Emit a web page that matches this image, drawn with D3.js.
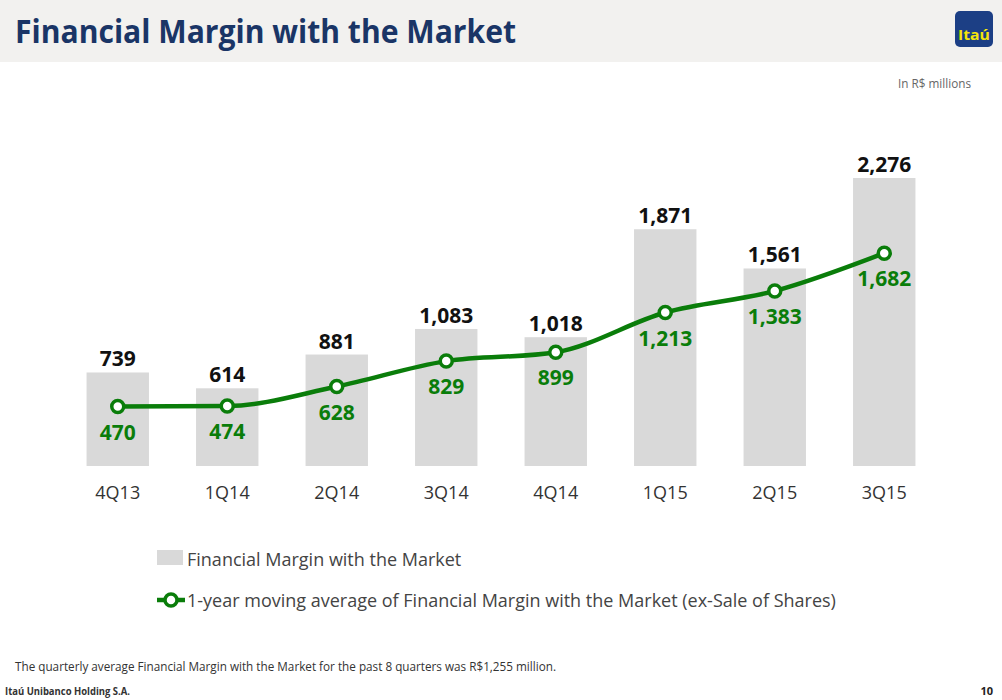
<!DOCTYPE html>
<html>
<head>
<meta charset="utf-8">
<script src="https://cdn.jsdelivr.net/npm/d3@7"></script>
<style>
  body { margin: 0; background: #fff; }
  svg { display: block; font-family: "Open Sans", "Noto Sans", sans-serif; }
</style>
</head>
<body>
<svg id="chart"></svg>
<script>
// quarters and values (R$ millions)
var quarters = ['4Q13', '1Q14', '2Q14', '3Q14', '4Q14', '1Q15', '2Q15', '3Q15'];
var marginValues = [739, 614, 881, 1083, 1018, 1871, 1561, 2276];
var movingAvgValues = [470, 474, 628, 829, 899, 1213, 1383, 1682];

var width = 1002;
var height = 700;
var green = '#0a7d0a';

var svg = d3.select('#chart')
            .attr('width', width)
            .attr('height', height);

// header band
svg.append('rect')
   .attr('x', 0).attr('y', 0)
   .attr('width', width).attr('height', 62)
   .attr('fill', '#f2f1ef');

svg.append('text')
   .attr('x', 15).attr('y', 43)
   .attr('fill', '#1a3566')
   .attr('font-size', 33)
   .attr('font-weight', 'bold')
   .attr('textLength', 501)
   .attr('lengthAdjust', 'spacingAndGlyphs')
   .text('Financial Margin with the Market');

// logo
svg.append('rect')
   .attr('x', 955).attr('y', 11)
   .attr('width', 38).attr('height', 36)
   .attr('rx', 5)
   .attr('fill', '#1c3f85');
svg.append('text')
   .attr('x', 974).attr('y', 40)
   .attr('text-anchor', 'middle')
   .attr('fill', '#f5e50a')
   .attr('font-size', 15)
   .attr('font-weight', 'bold')
   .attr('textLength', 32)
   .attr('lengthAdjust', 'spacingAndGlyphs')
   .text('Itaú');

svg.append('text')
   .attr('x', 971).attr('y', 88)
   .attr('text-anchor', 'end')
   .attr('fill', '#666')
   .attr('font-size', 12)
   .attr('textLength', 73)
   .attr('lengthAdjust', 'spacingAndGlyphs')
   .text('In R$ millions');

// scales
var x = d3.scaleBand()
          .domain(quarters)
          .range([63, 939])
          .paddingInner(0.43)
          .paddingOuter(0.215);

var y = d3.scaleLinear()
          .domain([0, 2276])
          .range([466, 178]);

var chart = svg.append('g');

// bars
chart.selectAll('rect.bar')
     .data(marginValues)
     .enter()
       .append('rect')
       .attr('class', 'bar')
       .attr('x', function (d, i) { return x(quarters[i]); })
       .attr('y', function (d) { return y(d); })
       .attr('width', x.bandwidth())
       .attr('height', function (d) { return y(0) - y(d); })
       .attr('fill', '#d9d9d9');

// bar labels
chart.selectAll('text.bar-label')
     .data(marginValues)
     .enter()
       .append('text')
       .attr('class', 'bar-label')
       .attr('x', function (d, i) { return x(quarters[i]) + x.bandwidth() / 2; })
       .attr('y', function (d) { return y(d) - 6; })
       .attr('text-anchor', 'middle')
       .attr('font-size', 21)
       .attr('font-weight', 'bold')
       .attr('fill', '#111')
       .text(function (d) { return d3.format(',')(d); });

// category axis
var xAxis = chart.append('g')
                 .attr('transform', 'translate(0,' + 480 + ')')
                 .call(d3.axisBottom(x).tickSize(0).tickPadding(0));
xAxis.select('.domain').remove();
xAxis.selectAll('text')
     .attr('dy', 19)
     .attr('font-size', 18)
     .attr('font-family', '"Open Sans", "Noto Sans", sans-serif')
     .attr('fill', '#333');

// moving average line
var line = d3.line()
             .x(function (d, i) { return x(quarters[i]) + x.bandwidth() / 2; })
             .y(function (d) { return y(d); })
             .curve(d3.curveMonotoneX);

chart.append('path')
     .datum(movingAvgValues)
     .attr('d', line)
     .attr('fill', 'none')
     .attr('stroke', green)
     .attr('stroke-width', 4.5);

chart.selectAll('circle.point')
     .data(movingAvgValues)
     .enter()
       .append('circle')
       .attr('class', 'point')
       .attr('cx', function (d, i) { return x(quarters[i]) + x.bandwidth() / 2; })
       .attr('cy', function (d) { return y(d); })
       .attr('r', 6)
       .attr('fill', '#fff')
       .attr('stroke', green)
       .attr('stroke-width', 3.5);

chart.selectAll('text.avg-label')
     .data(movingAvgValues)
     .enter()
       .append('text')
       .attr('class', 'avg-label')
       .attr('x', function (d, i) { return x(quarters[i]) + x.bandwidth() / 2; })
       .attr('y', function (d) { return y(d) + 33; })
       .attr('text-anchor', 'middle')
       .attr('font-size', 21)
       .attr('font-weight', 'bold')
       .attr('fill', green)
       .text(function (d) { return d3.format(',')(d); });

// legend
var legend = svg.append('g');
legend.append('rect')
      .attr('x', 157).attr('y', 550)
      .attr('width', 26).attr('height', 15)
      .attr('fill', '#d9d9d9');
legend.append('text')
      .attr('x', 187).attr('y', 566)
      .attr('font-size', 18)
      .attr('fill', '#444')
      .text('Financial Margin with the Market');

legend.append('line')
      .attr('x1', 157).attr('x2', 185)
      .attr('y1', 600).attr('y2', 600)
      .attr('stroke', green)
      .attr('stroke-width', 4.5);
legend.append('circle')
      .attr('cx', 171).attr('cy', 600)
      .attr('r', 6)
      .attr('fill', '#fff')
      .attr('stroke', green)
      .attr('stroke-width', 3.5);
legend.append('text')
      .attr('x', 187).attr('y', 607)
      .attr('font-size', 18)
      .attr('fill', '#444')
      .text('1-year moving average of Financial Margin with the Market (ex-Sale of Shares)');

// footer
svg.append('text')
   .attr('x', 15).attr('y', 671)
   .attr('font-size', 12)
   .attr('fill', '#333')
   .attr('textLength', 541)
   .attr('lengthAdjust', 'spacingAndGlyphs')
   .text('The quarterly average Financial Margin with the Market for the past 8 quarters was R$1,255 million.');

svg.append('text')
   .attr('x', 5).attr('y', 695)
   .attr('font-size', 10)
   .attr('font-weight', 'bold')
   .attr('fill', '#333')
   .attr('textLength', 125)
   .attr('lengthAdjust', 'spacingAndGlyphs')
   .text('Itaú Unibanco Holding S.A.');

svg.append('text')
   .attr('x', 993).attr('y', 695)
   .attr('text-anchor', 'end')
   .attr('font-size', 11)
   .attr('font-weight', 'bold')
   .attr('fill', '#222')
   .text('10');
</script>
</body>
</html>
